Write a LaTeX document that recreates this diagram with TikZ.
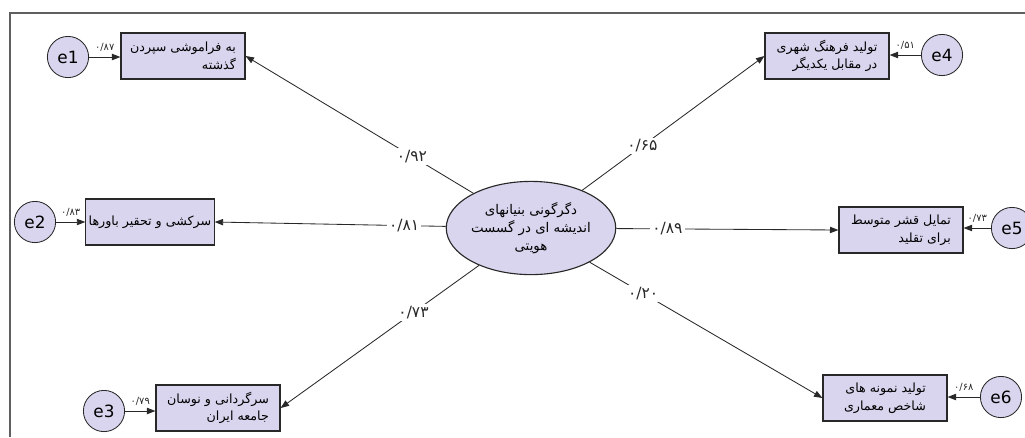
\documentclass[tikz,border=0pt]{standalone}
\usepackage{fontspec}
\setmainfont{DejaVu Sans}
\newfontfamily\farsi[Script=Arabic]{DejaVu Sans}
\TeXXeTstate=1
\usetikzlibrary{arrows.meta,shapes.geometric}
\definecolor{boxfill}{RGB}{217,213,238}
\definecolor{framegray}{RGB}{95,95,95}
\definecolor{linegray}{RGB}{40,40,40}
\newcommand{\rl}[1]{\beginR#1\endR}

\begin{document}
\begin{tikzpicture}[x=0.025cm, y=-0.025cm,
    factor/.style={draw=linegray, fill=boxfill, line width=0.8pt, minimum width=3.1cm, minimum height=1.15cm, inner sep=2pt, align=right, font=\farsi\fontsize{9}{12.5}\selectfont},
    err/.style={circle, draw=linegray, fill=boxfill, line width=0.6pt, minimum size=1.03cm, inner sep=0pt, font=\fontsize{12}{14}\selectfont},
    latent/.style={ellipse, draw=linegray, fill=boxfill, line width=0.8pt, minimum width=3.7cm, minimum height=2.33cm, inner sep=0pt, align=center, font=\farsi\fontsize{9.5}{13}\selectfont},
    link/.style={-{Triangle[length=6pt,width=4.5pt]}, linegray, line width=0.6pt},
    coef/.style={fill=white, inner sep=1.5pt, text=linegray, font=\farsi\fontsize{11}{13}\selectfont},
    ecoef/.style={above, inner sep=1pt, yshift=3pt, text=linegray, font=\farsi\fontsize{7}{8}\selectfont}]
  \useasboundingbox (0,0) rectangle (1025,437);
  % frame
  \draw[framegray, line width=1pt] (10,437) -- (10,13) -- (1025,13);
  % central factor
  \node[latent] (c) at (531,228) {\rl{دگرگونی بنیانهای}\\ \rl{اندیشه ای در گسست}\\ \rl{هویتی}};
  % left indicators
  \node[factor] (b1) at (183,56) {\rl{به فراموشی سپردن}\\ \rl{گذشته}\hspace{1.2em}};
  \node[factor] (b2) at (150,222) {\rl{سرکشی و تحقیر باورها}};
  \node[factor] (b3) at (218,408) {\rl{سرگردانی و نوسان}\\ \rl{جامعه ایران}};
  % right indicators
  \node[factor] (b4) at (827,56) {\rl{تولید فرهنگ شهری}\\ \rl{در مقابل یکدیگر}};
  \node[factor] (b5) at (901,230) {\rl{تمایل قشر متوسط}\\ \rl{برای تقلید}};
  \node[factor] (b6) at (885,398) {\rl{تولید نمونه های}\\ \rl{شاخص معماری}};
  % error terms
  \node[err] (e1) at (68,57) {e1};
  \node[err] (e2) at (35,222) {e2};
  \node[err] (e3) at (104,411) {e3};
  \node[err] (e4) at (942,55) {e4};
  \node[err] (e5) at (1012,228) {e5};
  \node[err] (e6) at (1001,397) {e6};
  % loadings
  \draw[link] (c) -- (b1.east) node[coef, pos=0.27] {۰/۹۲};
  \draw[link] (c) -- (b2.east) node[coef, pos=0.18] {۰/۸۱};
  \draw[link] (c) -- (b3.east) node[coef, pos=0.33] {۰/۷۳};
  \draw[link] (c) -- (b4.west) node[coef, pos=0.33] {۰/۶۵};
  \draw[link] (c) -- (b5.west) node[coef, pos=0.23] {۰/۸۹};
  \draw[link] (c) -- (b6.west) node[coef, pos=0.23] {۰/۲۰};
  % error arrows
  \draw[link] (e1) -- (e1 -| b1.west) node[ecoef, midway] {۰/۸۷};
  \draw[link] (e2) -- (e2 -| b2.west) node[ecoef, midway] {۰/۸۳};
  \draw[link] (e3) -- (e3 -| b3.west) node[ecoef, midway] {۰/۷۹};
  \draw[link] (e4) -- (e4 -| b4.east) node[ecoef, midway] {۰/۵۱};
  \draw[link] (e5) -- (e5 -| b5.east) node[ecoef, midway] {۰/۷۳};
  \draw[link] (e6) -- (e6 -| b6.east) node[ecoef, midway] {۰/۶۸};
\end{tikzpicture}
\end{document}
